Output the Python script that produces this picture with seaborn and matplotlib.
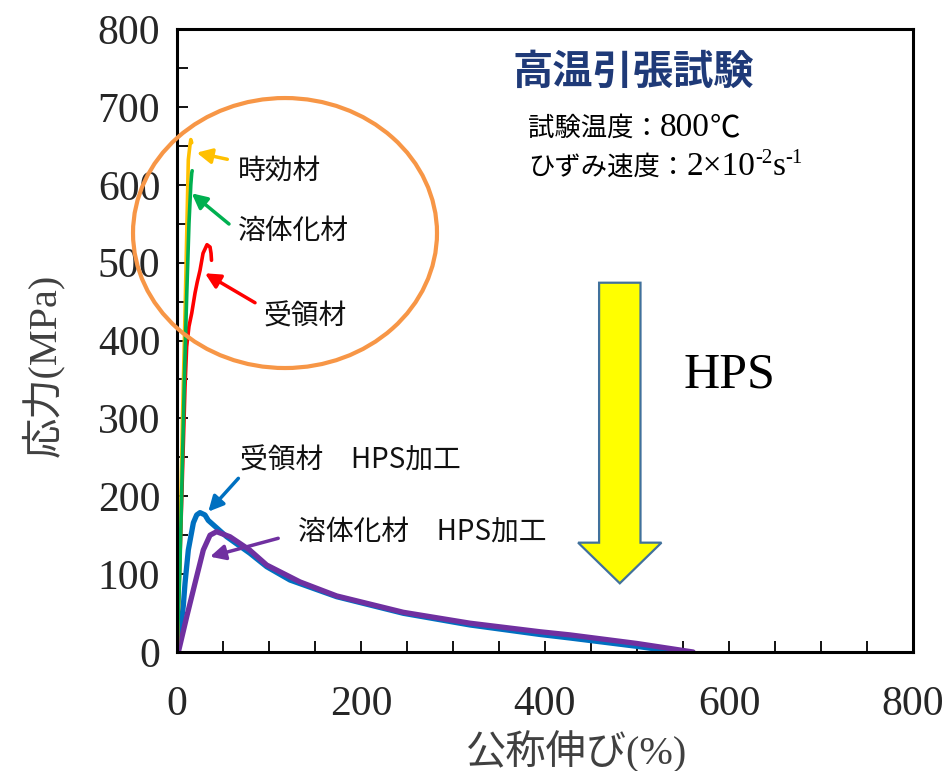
import matplotlib
matplotlib.use("Agg")
import matplotlib.pyplot as plt
import seaborn as sns
from matplotlib.patches import Ellipse, FancyArrow
from matplotlib.ticker import MultipleLocator

# --- curve data: nominal strain (%) / stress (MPa) ---
aged_x = [0, 3, 6, 9, 12.3, 14, 15, 16]
aged_y = [0, 120, 300, 450, 632, 650, 658, 654]

solution_x = [0, 3, 6, 8, 10.5, 13, 15, 16, 16.5]
solution_y = [0, 100, 250, 350, 456, 550, 600, 615, 618]

received_x = [0, 4, 8.7, 10.5, 13, 16, 19.6, 22, 25, 28.3, 32.6, 35.9, 37, 37.5]
received_y = [0, 150, 340, 392, 418, 435, 461, 475, 490, 512, 523, 520, 512, 503]

received_hps_x = [0, 2, 4, 6.9, 8.7, 12.3, 17.8, 21.4, 25, 30.4, 34, 54, 79, 97.5,
                  122.8, 173.6, 246, 318.5, 394.6, 427, 499.7, 543]
received_hps_y = [0, 8, 30, 60, 88, 131, 166, 176, 179, 176, 169, 148, 127, 109.5,
                  92.4, 71, 49.7, 34.7, 22.5, 18, 7.3, 0]

solution_hps_x = [0, 1.5, 10.5, 19.6, 28.6, 35.9, 43, 57.6, 79, 97.5, 133.7, 173.6,
                  246, 318.5, 394.6, 427, 499.7, 561]
solution_hps_y = [0, 0, 45, 88.5, 131, 150, 154.5, 148, 131, 111.7, 90, 72,
                  51, 37, 26, 22, 11, 0]

labels = ["時効材", "溶体化材", "受領材", "受領材　HPS加工", "溶体化材　HPS加工"]
colors = ["#FFC000", "#00B050", "#FF0000", "#0070C0", "#7030A0"]

x_ticks = [0, 200, 400, 600, 800]
y_ticks = [0, 100, 200, 300, 400, 500, 600, 700, 800]

sns.set_style("ticks")
MIX = ["Liberation Serif", "Noto Sans CJK JP"]
JP = ["Noto Sans CJK JP", "DejaVu Sans"]
plt.rcParams["font.family"] = MIX

fig = plt.figure(figsize=(9.5, 7.71), dpi=100)
ax = fig.add_axes([177 / 950, 119 / 771, 736 / 950, 623 / 771])

# draw order: HPS curves underneath, then the as-received / heat treated ones
sns.lineplot(x=received_hps_x, y=received_hps_y, ax=ax, color=colors[3], lw=3.8,
             sort=False, estimator=None)
sns.lineplot(x=solution_hps_x, y=solution_hps_y, ax=ax, color=colors[4], lw=3.8,
             sort=False, estimator=None)
sns.lineplot(x=received_x, y=received_y, ax=ax, color=colors[2], lw=2.6,
             sort=False, estimator=None)
sns.lineplot(x=aged_x, y=aged_y, ax=ax, color=colors[0], lw=2.6,
             sort=False, estimator=None)
sns.lineplot(x=solution_x, y=solution_y, ax=ax, color=colors[1], lw=2.6,
             sort=False, estimator=None)

ax.set_xlim(0, 800)
ax.set_ylim(0, 800)
ax.set_xticks(x_ticks)
ax.set_yticks(y_ticks)
ax.xaxis.set_minor_locator(MultipleLocator(50))
ax.yaxis.set_minor_locator(MultipleLocator(50))
ax.tick_params(which="both", direction="in", length=8, width=1.3, color="black",
               top=False, right=False)
ax.tick_params(axis="x", pad=24, labelsize=30)
ax.tick_params(axis="y", pad=12, labelsize=30)
for lab in ax.get_xticklabels() + ax.get_yticklabels():
    lab.set_fontfamily("Liberation Serif")
for sp in ax.spines.values():
    sp.set_visible(True)
    sp.set_linewidth(2.2)
    sp.set_color("black")

ax.set_xlabel("公称伸び(%)", fontsize=29, color="#404040", family=MIX, va="center")
ax.xaxis.set_label_coords(0.543, -0.16)
ax.set_ylabel("応力(MPa)", fontsize=29, color="#404040", family=MIX, va="center")
ax.yaxis.set_label_coords(-0.183, 0.46)

# arrows pointing at the curves (tail -> head, data coords)
arrow_tails = [(54.7, 632.7), (56.5, 549.6), (84.8, 448.5), (66.7, 223), (110, 146)]
arrow_heads = [(21.4, 641.2), (16, 589), (30.4, 486.3), (34, 180.2), (35.9, 122.4)]
label_pos = [(66.6, 618), (66.6, 541), (93.8, 430.6), (68.5, 246.5), (131.5, 154.5)]
for lab, c, tail, head, pos in zip(labels, colors, arrow_tails, arrow_heads, label_pos):
    ax.annotate("", xy=head, xytext=tail,
                arrowprops=dict(arrowstyle="-|>,head_length=0.9,head_width=0.45",
                                color=c, lw=2.5, shrinkA=0, shrinkB=0))
    ax.text(pos[0], pos[1], lab, fontsize=20, family=JP, color="#111111",
            va="center", ha="left")

# orange ring around the un-processed materials
ax.add_patch(Ellipse((117.4, 538), 330.4, 346.7, fill=False, ec="#F79646", lw=3,
                     clip_on=False, zorder=5))

# big yellow arrow "HPS"
ax.add_patch(FancyArrow(481.3, 474.2, 0, -386, width=45, head_width=90.6,
                        head_length=52.2, length_includes_head=True,
                        fc="#FFFF00", ec="#41719C", lw=1.6, zorder=4))
ax.text(551, 355.7, "HPS", fontsize=36, family="Liberation Serif", color="black",
        va="center", ha="left")

# title block
ax.text(365.2, 744.8, "高温引張試験", fontsize=29, family=JP, color="#1F3A78",
        fontweight="bold", va="center", ha="left")


def chain(pieces, x0, y0):
    """Write text pieces one after another on a common baseline."""
    prev = None
    for s, size, fam, rise in pieces:
        if prev is None:
            prev = ax.text(x0, y0, s, fontsize=size, family=fam, color="black",
                           va="baseline", ha="left")
        else:
            prev = ax.annotate(s, xy=(1, y0), xycoords=(prev, "data"),
                               xytext=(0, rise), textcoords="offset points",
                               fontsize=size, family=fam, color="black",
                               va="baseline", ha="left")


chain([("試験温度：", 19, JP, 0), ("800", 24, MIX, 0), ("℃", 22, JP, 0)],
      381.5, 662.5)
chain([("ひずみ速度：", 19, JP, 0), ("2×10", 24, MIX, 0), ("-2", 15, MIX, 9),
       ("s", 24, MIX, 0), ("-1", 15, MIX, 9)],
      381.5, 612.5)

fig.savefig("out.png", dpi=100)
